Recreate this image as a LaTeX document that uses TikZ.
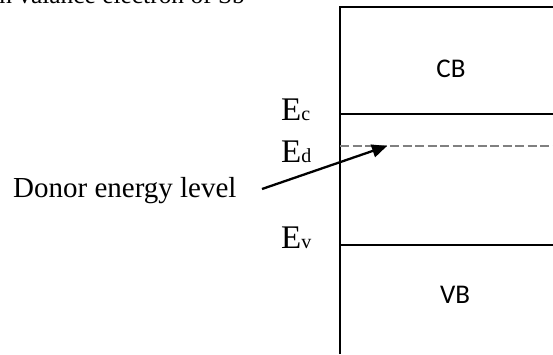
\documentclass[tikz,border=0pt]{standalone}
\usepackage{fontspec}
\setmainfont{Liberation Serif}
\newfontfamily\calib{Carlito}
\usetikzlibrary{arrows.meta}
\begin{document}
\begin{tikzpicture}[x=1bp,y=-1bp,
  band/.style={line width=2.3bp, black},
  donorline/.style={line width=2.3bp, gray, dash pattern=on 9bp off 3.5bp},
  ptr/.style={line width=2.3bp, -{Triangle[length=15bp,width=13bp]}},
  lbl/.style={inner sep=0pt, anchor=base west, font=\fontsize{33bp}{36bp}\selectfont},
  txt/.style={inner sep=0pt, font=\fontsize{29bp}{32bp}\selectfont},
  captxt/.style={inner sep=0pt, font=\fontsize{25.4bp}{28bp}\selectfont},
  bandname/.style={inner sep=0pt, font=\calib\fontsize{27bp}{30bp}\selectfont}]
\useasboundingbox (0,0) rectangle (553,354);
\clip (0,0) rectangle (553,354);
% partly cut caption at top
\node[captxt, anchor=base east] (cap) at (245,3) {n valance electron of Sb};
% band diagram
\coordinate (bl) at (340,354);
\coordinate (tl) at (340,7);
\coordinate (tr) at (553,7);
\coordinate (cl) at (340,114);
\coordinate (cr) at (553,114);
\coordinate (dl) at (340,146);
\coordinate (dr) at (553,146);
\coordinate (vl) at (340,245);
\coordinate (vr) at (553,245);
\draw[band] (bl) -- (tl) -- (tr);
\draw[band] (cl) -- (cr);
\draw[band] (vl) -- (vr);
\draw[donorline] (dl) -- (dr);
\node[bandname] (cb) at (451,69) {CB};
\node[bandname] (vb) at (455,295) {VB};
% level labels
\node[lbl] (ec) at (281,120) {E{\fontsize{20bp}{22bp}\selectfont c}};
\node[lbl] (ed) at (281,162) {E{\fontsize{20bp}{22bp}\selectfont d}};
\node[lbl] (ev) at (281,248) {E{\fontsize{20bp}{22bp}\selectfont v}};
% donor pointer
\node[txt, anchor=base west] (donor) at (13,197) {Donor energy level};
\coordinate (as) at (262,189);
\coordinate (at) at (387,146);
\draw[ptr] (as) -- (at);
\end{tikzpicture}
\end{document}
